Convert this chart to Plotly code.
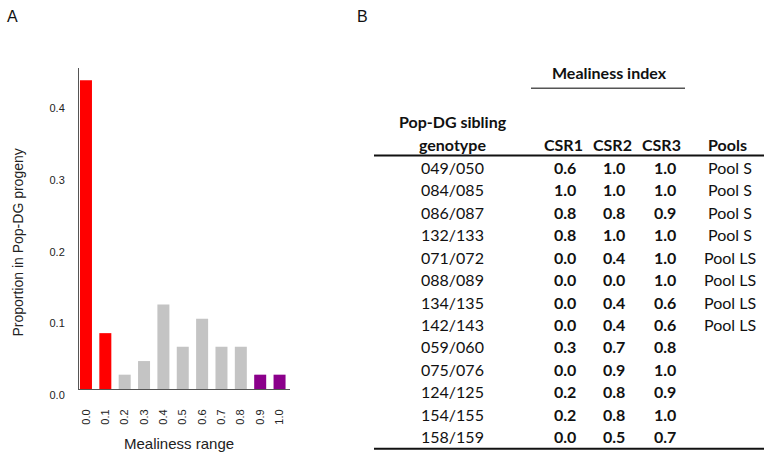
import plotly.graph_objects as go

# ---- Panel A: distribution of mealiness in the progeny ----
mealiness_range = ["0.0", "0.1", "0.2", "0.3", "0.4", "0.5", "0.6", "0.7", "0.8", "0.9", "1.0"]
proportion = [0.431, 0.078, 0.020, 0.039, 0.118, 0.059, 0.098, 0.059, 0.059, 0.020, 0.020]
bar_colors = ["#FF0000", "#FF0000", "#C4C4C4", "#C4C4C4", "#C4C4C4", "#C4C4C4",
              "#C4C4C4", "#C4C4C4", "#C4C4C4", "#8B008B", "#8B008B"]
y_ticks = [0.0, 0.1, 0.2, 0.3, 0.4]

# ---- Panel B: mealiness index of sibling genotypes ----
genotypes = ["049/050", "084/085", "086/087", "132/133", "071/072", "088/089", "134/135",
             "142/143", "059/060", "075/076", "124/125", "154/155", "158/159"]
csr1 = [0.6, 1.0, 0.8, 0.8, 0.0, 0.0, 0.0, 0.0, 0.3, 0.0, 0.2, 0.2, 0.0]
csr2 = [1.0, 1.0, 0.8, 1.0, 0.4, 0.0, 0.4, 0.4, 0.7, 0.9, 0.8, 0.8, 0.5]
csr3 = [1.0, 1.0, 0.9, 1.0, 1.0, 1.0, 0.6, 0.6, 0.8, 1.0, 0.9, 1.0, 0.7]
pools = ["Pool S", "Pool S", "Pool S", "Pool S", "Pool LS", "Pool LS", "Pool LS",
         "Pool LS", "", "", "", "", ""]
csr_headers = ["CSR1", "CSR2", "CSR3"]

W, H = 764, 465
ARIAL = "Liberation Sans, Arial, sans-serif"


def px(x):
    return x / W


def py(y):
    return 1 - y / H


fig = go.Figure()
fig.add_trace(go.Bar(
    x=list(range(len(mealiness_range))), y=proportion,
    marker=dict(color=bar_colors, line=dict(width=0)),
    width=0.62, hoverinfo="skip",
))

axis_font = dict(family=ARIAL, size=11, color="#222")
fig.update_layout(
    width=W, height=H, margin=dict(l=0, r=0, t=0, b=0),
    paper_bgcolor="white", plot_bgcolor="white", showlegend=False,
    xaxis=dict(
        domain=[px(79), px(290)], range=[-0.36, 10.54],
        tickmode="array", tickvals=list(range(len(mealiness_range))),
        ticktext=mealiness_range, tickangle=-90, tickfont=axis_font,
        ticks="", ticklabelstandoff=15,
        showline=True, linecolor="#555", linewidth=1, showgrid=False, zeroline=False,
        fixedrange=True,
    ),
    yaxis=dict(
        domain=[py(399.3), py(70)], range=[0, 0.448],
        tickmode="array", tickvals=y_ticks, ticktext=[f"{v:.1f}" for v in y_ticks],
        tickfont=axis_font, ticks="", ticklabelstandoff=11, ticklabelshift=6,
        showline=True, linecolor="#555", linewidth=1, showgrid=False, zeroline=False,
        fixedrange=True,
    ),
)

annotations = []
shapes = []


def text(x, y, s, size=16, bold=False, family="Lato, sans-serif", xanchor="center",
         color="#111", angle=0):
    annotations.append(dict(
        x=px(x), y=py(y), xref="paper", yref="paper", text=f"<b>{s}</b>" if bold else s,
        showarrow=False, xanchor=xanchor, yanchor="middle", textangle=angle,
        font=dict(family=family, size=size, color=color),
    ))


def hline(x0, x1, y, width, color):
    shapes.append(dict(type="line", xref="paper", yref="paper",
                       x0=px(x0), x1=px(x1), y0=py(y), y1=py(y),
                       line=dict(color=color, width=width)))


# panel letters and axis titles
text(12, 17, "A", size=16, family=ARIAL)
text(362, 17, "B", size=16, family=ARIAL)
text(18, 249, "Proportion in Pop-DG progeny", size=14, family=ARIAL, color="#222", angle=-90)
text(179, 455, "Mealiness range", size=15, family=ARIAL, color="#222")

# table headers
text(609, 74, "Mealiness index", bold=True)
hline(531, 685, 90.5, 1.5, "#555")
text(452.5, 125, "Pop-DG sibling", bold=True)
text(452.5, 148, "genotype", bold=True)
col_x = [563, 612, 661]
for cx, h in zip(col_x, csr_headers):
    text(cx, 148, h, bold=True)
text(727, 148, "Pools", bold=True)
hline(374, 764, 159.5, 2, "#111")

# table rows
row0, row_step = 171.7, 23.05
for i, g in enumerate(genotypes):
    y = row0 + i * row_step
    text(452.5, y, g)
    for cx, col in zip([565, 614, 665], [csr1, csr2, csr3]):
        text(cx, y, f"{col[i]:.1f}", bold=True)
    if pools[i]:
        text(730, y, pools[i])
hline(374, 764, 460.7, 2, "#111")

fig.update_layout(annotations=annotations, shapes=shapes)
fig.write_html("out.html")
